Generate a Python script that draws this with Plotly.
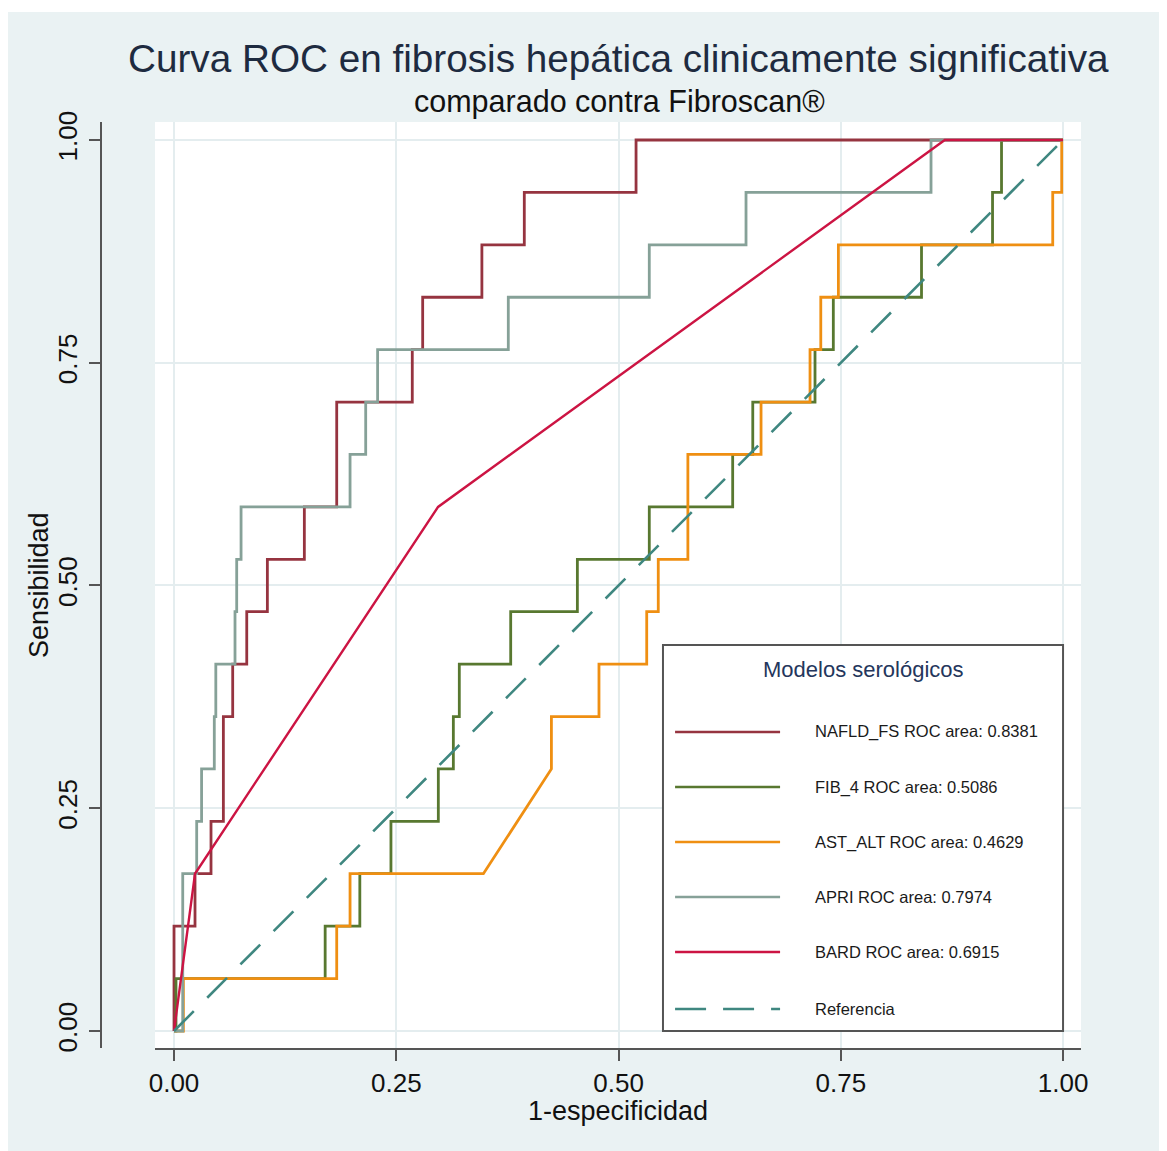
import plotly.graph_objects as go

# ---------------- data ----------------
nafld_fpr = [0, 0, 0.0236, 0.0236, 0.0416, 0.0416, 0.0555, 0.0555, 0.0660, 0.0660,
             0.0818, 0.0818, 0.1050, 0.1050, 0.1466, 0.1466, 0.1830, 0.1830, 0.2680, 0.2680,
             0.2797, 0.2797, 0.3463, 0.3463, 0.3940, 0.3940, 0.5197, 0.5197, 1.0]
nafld_tpr = [0, .1176, .1176, .1765, .1765, .2353, .2353, .3529, .3529, .4118,
             .4118, .4706, .4706, .5294, .5294, .5882, .5882, .7059, .7059, .7647,
             .7647, .8235, .8235, .8824, .8824, .9412, .9412, 1, 1]

fib4_fpr = [0, 0.0022, 0.0022, 0.1700, 0.1700, 0.2090, 0.2090, 0.2440, 0.2440, 0.2973,
            0.2973, 0.3142, 0.3142, 0.3209, 0.3209, 0.3787, 0.3787, 0.4537, 0.4537, 0.5346,
            0.5346, 0.6284, 0.6284, 0.6510, 0.6510, 0.7210, 0.7210, 0.7416, 0.7416, 0.8408,
            0.8408, 0.9207, 0.9207, 0.9308, 0.9308, 1.0]
fib4_tpr = [0, 0, .0588, .0588, .1176, .1176, .1765, .1765, .2353, .2353,
            .2941, .2941, .3529, .3529, .4118, .4118, .4706, .4706, .5294, .5294,
            .5882, .5882, .6471, .6471, .7059, .7059, .7647, .7647, .8235, .8235,
            .8824, .8824, .9412, .9412, 1, 1]

astalt_fpr = [0, 0.0105, 0.0105, 0.1830, 0.1830, 0.1980, 0.1980, 0.3480, 0.4245, 0.4245,
              0.4780, 0.4780, 0.5317, 0.5317, 0.5447, 0.5447, 0.5780, 0.5780, 0.6603, 0.6603,
              0.7154, 0.7154, 0.7275, 0.7275, 0.7473, 0.7473, 0.9884, 0.9884, 0.9985, 0.9985, 1.0]
astalt_tpr = [0, 0, .0588, .0588, .1176, .1176, .1765, .1765, .2941, .3529,
              .3529, .4118, .4118, .4706, .4706, .5294, .5294, .6471, .6471, .7059,
              .7059, .7647, .7647, .8235, .8235, .8824, .8824, .9412, .9412, 1, 1]

apri_fpr = [0, 0.0098, 0.0098, 0.0255, 0.0255, 0.0310, 0.0310, 0.0453, 0.0453, 0.0470,
            0.0470, 0.0686, 0.0686, 0.0705, 0.0705, 0.0754, 0.0754, 0.1980, 0.1980, 0.2156,
            0.2156, 0.2290, 0.2290, 0.3760, 0.3760, 0.5346, 0.5346, 0.6434, 0.6434, 0.8515,
            0.8515, 1.0]
apri_tpr = [0, 0, .1765, .1765, .2353, .2353, .2941, .2941, .3529, .3529,
            .4118, .4118, .4706, .4706, .5294, .5294, .5882, .5882, .6471, .6471,
            .7059, .7059, .7647, .7647, .8235, .8235, .8824, .8824, .9412, .9412,
            1, 1]

bard_fpr = [0, 0.0236, 0.2970, 0.8670, 1.0]
bard_tpr = [0, 0.1765, 0.5882, 1, 1]

ref_x = [0, 1]
ref_y = [0, 1]

model_names = ["NAFLD_FS", "FIB_4", "AST_ALT", "APRI", "BARD"]
model_auc = ["0.8381", "0.5086", "0.4629", "0.7974", "0.6915"]
ref_name = "Referencia"

tick_vals = [0, 0.25, 0.5, 0.75, 1.0]
tick_text = ["0.00", "0.25", "0.50", "0.75", "1.00"]

title_text = "Curva ROC en fibrosis hepática clinicamente significativa"
subtitle_text = "comparado contra Fibroscan®"
x_title = "1-especificidad"
y_title = "Sensibilidad"
legend_title = "Modelos serológicos"

# ---------------- style ----------------
FONT = "Liberation Sans, Arial, sans-serif"
colors = ["#963440", "#587830", "#ef8f12", "#86a198", "#cc1443"]
ref_color = "#3f8780"
widths = [2.8, 2.8, 2.8, 2.8, 2.4]
bg = "#eaf2f3"

series = [(nafld_fpr, nafld_tpr), (fib4_fpr, fib4_tpr), (astalt_fpr, astalt_tpr),
          (apri_fpr, apri_tpr), (bard_fpr, bard_tpr)]

fig = go.Figure()
for (xs, ys), name, auc, col, w in zip(series, model_names, model_auc, colors, widths):
    fig.add_trace(go.Scatter(x=xs, y=ys, mode="lines", name=f"{name} ROC area: {auc}",
                             line=dict(color=col, width=w), showlegend=False))
fig.add_trace(go.Scatter(x=ref_x, y=ref_y, mode="lines", name=ref_name,
                         line=dict(color=ref_color, width=2.6, dash="28px,19px"),
                         showlegend=False))

# the page body adds an 8px offset; work in page pixels and convert
OFF = 8
W, H = 1167 - OFF, 1151 - OFF
ML, MR, MT, MB = 101 - OFF, 86, 122 - OFF, 103
PW = W - ML - MR
PH = H - MT - MB


def px_x(p):  # page pixel -> paper x
    return (p - OFF - ML) / PW


def px_y(p):  # page pixel -> paper y
    return 1 - (p - OFF - MT) / PH


shapes = [
    # white strip at the top of the image
    dict(type="rect", xref="paper", yref="paper", x0=-0.3, x1=1.3, y0=px_y(12), y1=1.4,
         fillcolor="white", line=dict(width=0), layer="below"),
    # legend box
    dict(type="rect", xref="x", yref="y", x0=0.55, x1=1.0, y0=0.0, y1=0.4332,
         fillcolor="white", line=dict(color="#555555", width=2), layer="above"),
]

legend_ys = [0.3356, 0.2738, 0.2121, 0.1504, 0.0887, 0.0247]
annotations = []
for i, (name, auc, col) in enumerate(zip(model_names, model_auc, colors)):
    yv = legend_ys[i]
    shapes.append(dict(type="line", xref="x", yref="y", x0=0.5636, x1=0.6817, y0=yv, y1=yv,
                       line=dict(color=col, width=2.4), layer="above"))
    annotations.append(dict(xref="x", yref="y", x=0.7188, y=yv, xanchor="left", yanchor="middle",
                            text=f"{name} ROC area: {auc}", showarrow=False,
                            font=dict(family=FONT, size=16.5, color="#1a1a1a")))
shapes.append(dict(type="line", xref="x", yref="y", x0=0.5636, x1=0.6817,
                   y0=legend_ys[5], y1=legend_ys[5],
                   line=dict(color=ref_color, width=2.4, dash="31px,17px"), layer="above"))
annotations.append(dict(xref="x", yref="y", x=0.7188, y=legend_ys[5], xanchor="left",
                        yanchor="middle", text=ref_name, showarrow=False,
                        font=dict(family=FONT, size=16.5, color="#1a1a1a")))
annotations.append(dict(xref="x", yref="y", x=0.775, y=0.4052, xanchor="center", yanchor="middle",
                        text=legend_title, showarrow=False,
                        font=dict(family=FONT, size=22, color="#24365c")))

# titles
annotations.append(dict(xref="paper", yref="paper", x=px_x(618), y=px_y(58), xanchor="center",
                        yanchor="middle", text=title_text, showarrow=False,
                        font=dict(family=FONT, size=38.7, color="#1e2b40")))
annotations.append(dict(xref="paper", yref="paper", x=px_x(619), y=px_y(101), xanchor="center",
                        yanchor="middle", text=subtitle_text, showarrow=False,
                        font=dict(family=FONT, size=30.5, color="#111111")))
annotations.append(dict(xref="paper", yref="paper", x=px_x(618), y=px_y(1111), xanchor="center",
                        yanchor="middle", text=x_title, showarrow=False,
                        font=dict(family=FONT, size=27, color="#111111")))
annotations.append(dict(xref="paper", yref="paper", x=px_x(39), y=px_y(585), xanchor="center",
                        yanchor="middle", text=y_title, showarrow=False, textangle=-90,
                        font=dict(family=FONT, size=27, color="#111111")))

axis_common = dict(
    tickvals=tick_vals, ticktext=tick_text, showgrid=True, gridcolor="#e4edef", gridwidth=2,
    zeroline=False, showline=True, linecolor="#555555", linewidth=2,
    ticks="outside", ticklen=11, tickwidth=2, tickcolor="#555555",
    tickfont=dict(family=FONT, size=26, color="#111111"),
)

fig.update_layout(
    width=W, height=H,
    margin=dict(l=ML, r=MR, t=MT, b=MB, autoexpand=False),
    paper_bgcolor=bg, plot_bgcolor="white",
    showlegend=False,
    xaxis=dict(domain=[(155 - OFF - ML) / PW, 1], range=[-0.0214, 1.0202], anchor="y",
               **axis_common),
    yaxis=dict(domain=[0, 1], range=[-0.0191, 1.0202], anchor="free", position=0,
               tickangle=-90, ticklabelstandoff=2, **axis_common),
    shapes=shapes,
    annotations=annotations,
)

fig.write_html("out.html")
